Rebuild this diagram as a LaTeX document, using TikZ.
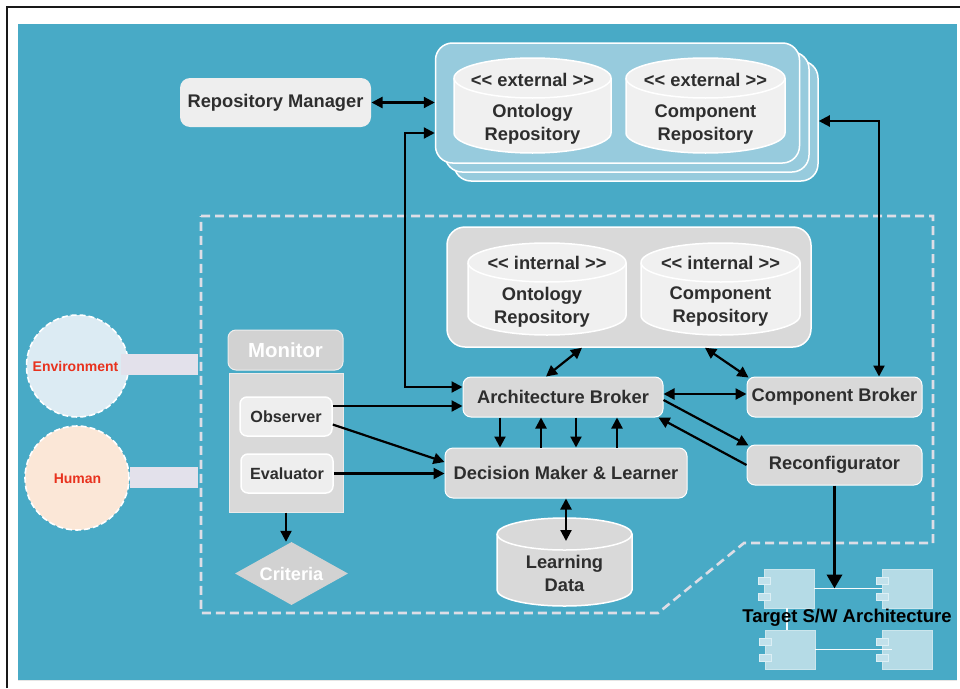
\documentclass[tikz,border=0pt]{standalone}
\usepackage{fontspec}
\setmainfont{Liberation Sans}
\usetikzlibrary{arrows.meta,calc,shapes.geometric}
\definecolor{bgblue}{HTML}{48AAC6}
\definecolor{extfill}{HTML}{97CBDD}
\definecolor{cylfill}{HTML}{F0F0F0}
\definecolor{boxgray}{HTML}{D9D9D9}
\definecolor{lightbox}{HTML}{EEEEEE}
\definecolor{txt}{HTML}{2E2E2E}
\definecolor{dashcol}{HTML}{DDDDE6}
\definecolor{envfill}{HTML}{DCEBF3}
\definecolor{humfill}{HTML}{FBE7D7}
\definecolor{barfill}{HTML}{E3E1EB}
\definecolor{redtxt}{HTML}{E8321E}
\definecolor{compfill}{HTML}{B5DBE6}
\definecolor{tabfill}{HTML}{C2E1EB}
\definecolor{tabline}{HTML}{DCEFF5}

\newcommand{\drumshape}[6]{%
  \pgfmathsetmacro{\dmL}{#1}%
  \pgfmathsetmacro{\dmR}{#3}%
  \pgfmathsetmacro{\dmC}{(#1+#3)/2}%
  \pgfmathsetmacro{\dmKx}{0.5523*(#3-#1)/2}%
  \pgfmathsetmacro{\dmKy}{0.5523*#5}%
  \pgfmathsetmacro{\dmT}{#2}%
  \pgfmathsetmacro{\dmB}{#4}%
  \pgfmathsetmacro{\dmTc}{#2+#5}%
  \pgfmathsetmacro{\dmBc}{#4-#5}%
  \pgfmathsetmacro{\dmTl}{#2+2*#5}%
  \path[#6] (\dmL,\dmTc) -- (\dmL,\dmBc) .. controls (\dmL,\dmBc+\dmKy) and (\dmC-\dmKx,\dmB) .. (\dmC,\dmB) .. controls (\dmC+\dmKx,\dmB) and (\dmR,\dmBc+\dmKy) .. (\dmR,\dmBc) -- (\dmR,\dmTc) .. controls (\dmR,\dmTc-\dmKy) and (\dmC+\dmKx,\dmT) .. (\dmC,\dmT) .. controls (\dmC-\dmKx,\dmT) and (\dmL,\dmTc-\dmKy) .. cycle;
  \path[#6,fill=none] (\dmL,\dmTc) .. controls (\dmL,\dmTc+\dmKy) and (\dmC-\dmKx,\dmTl) .. (\dmC,\dmTl) .. controls (\dmC+\dmKx,\dmTl) and (\dmR,\dmTc+\dmKy) .. (\dmR,\dmTc);
}

\begin{document}
\begin{tikzpicture}[x=1pt,y=-1pt,
  lbl/.style={text=txt,font=\bfseries\fontsize{18.3}{23}\selectfont,align=center,inner sep=0pt},
  box/.style={draw=white,line width=1pt,fill=boxgray,rounded corners=8pt,inner sep=0pt,text=txt,font=\bfseries\fontsize{18.3}{23}\selectfont},
  extbox/.style={draw=white,line width=1.5pt,fill=extfill,rounded corners=17pt,minimum width=364pt,minimum height=120pt,inner sep=0pt},
  smallbox/.style={draw=white,line width=1.5pt,fill=lightbox,rounded corners=7pt,inner sep=0pt,minimum width=92pt,minimum height=39pt,text=txt,font=\bfseries\fontsize{16.2}{19}\selectfont},
  ppl/.style={circle,draw=white,line width=1.6pt,dash pattern=on 6pt off 3pt,inner sep=0pt,text=redtxt,font=\bfseries\fontsize{14}{16}\selectfont},
  bar/.style={fill=barfill,inner sep=0pt,minimum height=21pt},
  comp/.style={fill=compfill,draw=compfill!70!white,line width=0.6pt,minimum width=50pt,minimum height=39pt,inner sep=0pt},
  tab/.style={fill=tabfill,draw=tabline,line width=0.8pt,minimum width=12pt,minimum height=7pt,inner sep=0pt},
  arr/.style={line width=2.2pt,-{Triangle[length=11pt,width=11pt]}},
  darr/.style={line width=2.2pt,{Triangle[length=11pt,width=11pt]}-{Triangle[length=11pt,width=11pt]}}
]
\useasboundingbox (0,0) rectangle (960,688);
% background
\fill[white] (0,0) rectangle (960,688);
\fill[bgblue] (18,24) rectangle (957,680);
\draw[black!10,line width=1pt] (18,680.5) -- (957,680.5);
\draw[black!90,line width=1.8pt] (7,688) -- (7,7) -- (960,7);

% dashed region
\draw[dashcol,line width=2.6pt,dash pattern=on 9pt off 5pt] (201,216) -- (933,216) -- (933,543) -- (744,543) -- (658,613) -- (201,613) -- cycle;

% repository manager
\node[box,fill=lightbox,draw=none,rounded corners=10pt,minimum width=191pt,minimum height=49pt] (rm) at (275.5,102.5) {Repository Manager};

% external repositories stack
\node[extbox] (ext3) at (636,121) {};
\node[extbox] (ext2) at (627,112) {};
\node[extbox] (ext) at (617.5,103) {};
\drumshape{454}{58}{611}{153}{20}{fill=cylfill,draw=white,line width=1.5pt}
\drumshape{626}{58}{785}{153}{20}{fill=cylfill,draw=white,line width=1.5pt}
\node[lbl] (extos) at (532.5,79.5) {<\kern0pt< external >\kern0pt>};
\node[lbl] (exto) at (532.5,124.5) {Ontology\\Repository};
\node[lbl] (extcs) at (705.5,79.5) {<\kern0pt< external >\kern0pt>};
\node[lbl] (extc) at (705.5,124.5) {Component\\Repository};

% internal repositories
\node[draw=white,line width=1.5pt,fill=boxgray,rounded corners=18pt,minimum width=364pt,minimum height=120pt,inner sep=0pt] (intbox) at (629,287) {};
\drumshape{468}{243}{626}{335}{19.5}{fill=cylfill,draw=white,line width=1.5pt}
\drumshape{641}{243}{800}{335}{19.5}{fill=cylfill,draw=white,line width=1.5pt}
\node[lbl] (intos) at (547,263) {<\kern0pt< internal >\kern0pt>};
\node[lbl] (into) at (542,307) {Ontology\\Repository};
\node[lbl] (intcs) at (720.5,263) {<\kern0pt< internal >\kern0pt>};
\node[lbl] (intc) at (720.5,307) {Component\\Repository};

% brokers
\node[box,minimum width=200pt,minimum height=40pt] (ab) at (563,397) {Architecture Broker};
\node[box,minimum width=175pt,minimum height=40pt] (cb) at (834.5,397) {Component Broker};
\node[box,minimum width=175pt,minimum height=40pt] (rc) at (834.5,465) {Reconfigurator};
\node[box,minimum width=242pt,minimum height=50pt] (dml) at (566,473) {Decision Maker \& Learner};

% learning data
\drumshape{497}{518}{632}{606}{16}{fill=boxgray,draw=white,line width=1.5pt}
\node[lbl] (ld) at (564.5,573.5) {Learning\\Data};
\coordinate (ldin) at (566,541);

% monitor
\node[draw=white!93!black,line width=1pt,fill=boxgray!97!black,rounded corners=8pt,minimum width=115pt,minimum height=40pt,inner sep=0pt,text=white,font=\bfseries\fontsize{20.4}{23}\selectfont] (mon) at (285.5,350) {Monitor};
\node[draw=white!92!black,line width=1pt,fill=boxgray,minimum width=114pt,minimum height=139pt,inner sep=0pt] (body) at (286,442.5) {};
\node[smallbox] (obs) at (286,416.5) {Observer};
\node[smallbox] (eva) at (287,473.5) {Evaluator};
\node[diamond,fill=boxgray!97!black,inner sep=0pt,aspect=1.8,minimum width=113pt,minimum height=63pt,text=white,font=\bfseries\fontsize{18.2}{21}\selectfont] (crit) at (291.5,573.5) {Criteria};

% environment and human
\node[ppl,fill=envfill,minimum size=102pt] (env) at (77.5,366) {};
\node[ppl,fill=humfill,minimum size=104pt] (hum) at (77,478) {};
\node[bar,minimum width=77pt] (envbar) at (159.5,364.5) {};
\node[bar,minimum width=68pt] (humbar) at (164,477.5) {};
\node[text=redtxt,font=\bfseries\fontsize{14}{16}\selectfont,inner sep=0pt] (envt) at (75.5,366) {Environment};
\node[text=redtxt,font=\bfseries\fontsize{14}{16}\selectfont,inner sep=0pt] (humt) at (77.5,479) {Human};

% target architecture
\node[comp] (t1) at (789,588.5) {};
\node[comp] (t2) at (907,588.5) {};
\node[comp] (t3) at (790,649.5) {};
\node[comp] (t4) at (907,649.5) {};
\draw[white!90!compfill,line width=1.3pt] (t1.east) -- (t2.west);
\draw[white!90!compfill,line width=1.3pt] (t3.east) -- ($(t4.west)+(10,0)$);
\draw[white!90!compfill,line width=1.3pt] ($(t1.south)+(-2,0)$) -- ($(t3.north)+(-3,0)$);
\foreach \t in {t1,t2,t3,t4}{
  \node[tab] at ($(\t.west)+(1,-8)$) {};
  \node[tab] at ($(\t.west)+(1,8)$) {};
}
\node[text=black,font=\bfseries\fontsize{18.5}{21}\selectfont,inner sep=0pt] (tgt) at (847,618) {Target S/W Architecture};

% connectors
\coordinate (k1) at (405,133);
\draw[darr] (rm.east) -- (ext.west |- rm.east);
\draw[darr] (ext.west |- k1) -- (k1) |- ($(ab.west)+(0,-10)$);
\draw[darr] (ext3.east) -| ($(cb.north)+(44.5,0)$);
\draw[arr] ($(obs.east)+(0,-10.5)$) -- ($(ab.west)+(0,9)$);
\draw[arr] ($(obs.east)+(0,8)$) -- ($(dml.west)+(0,-11)$);
\draw[arr] (eva.east) -- (dml.west |- eva.east);
\draw[arr] (body.south) -- (body.south |- crit.north);
\draw[darr] ($(ab.north)+(-17,0)$) -- ($(intbox.south)+(-47,0)$);
\draw[darr] ($(intbox.south)+(76,0)$) -- ($(cb.north west)+(2,1)$);
\draw[darr] ($(ab.east)+(0,-3)$) -- ($(cb.west)+(0,-3)$);
\draw[arr] ($(ab.east)+(0,3)$) -- ($(rc.north west)+(2,1)$);
\draw[arr] (rc.west) -- ($(ab.south east)+(-5,0)$);
\draw[arr] ($(ab.south)+(-63,0)$) -- ($(dml.north)+(-66,0)$);
\draw[arr] ($(dml.north)+(-25,0)$) -- ($(ab.south)+(-22,0)$);
\draw[arr] ($(ab.south)+(13,0)$) -- ($(dml.north)+(10,0)$);
\draw[arr] ($(dml.north)+(51,0)$) -- ($(ab.south)+(54,0)$);
\draw[darr] (dml.south) -- (ldin);
\draw[line width=3.5pt,-{Triangle[length=14pt,width=15pt]}] (rc.south) -- (rc.south |- t1.east);
\end{tikzpicture}
\end{document}
